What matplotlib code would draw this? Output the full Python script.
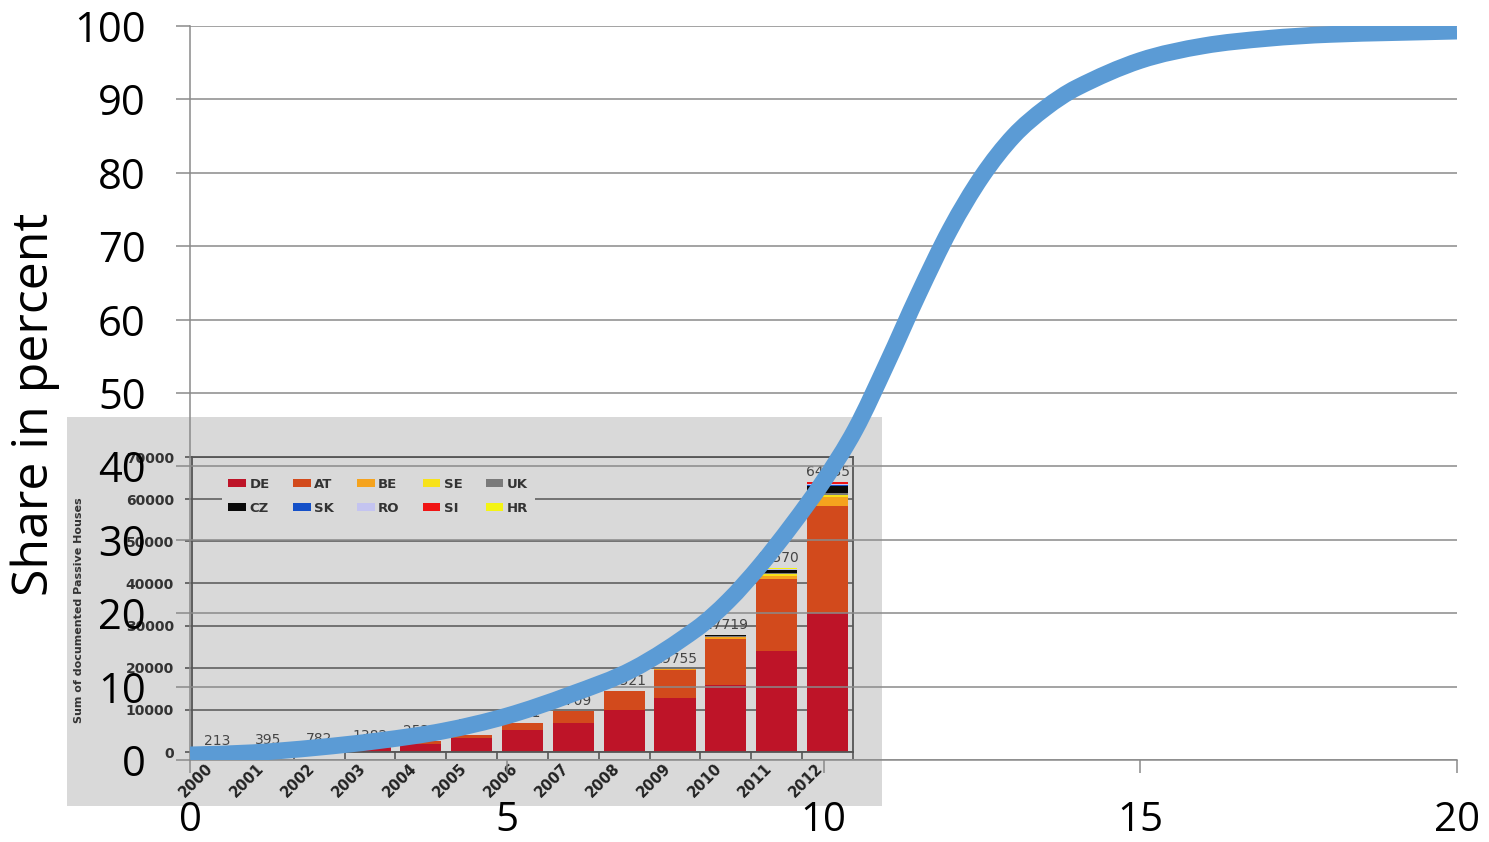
import matplotlib
matplotlib.use("Agg")
import matplotlib.pyplot as plt
import numpy as np
from matplotlib.patches import Rectangle, Patch, PathPatch
from matplotlib.path import Path
from matplotlib.transforms import ScaledTranslation

# S-curve: share in percent
share_x = [0, 1, 2, 3, 4, 5, 6, 7, 8, 8.5, 9, 9.5, 10, 10.5, 11, 11.5, 12,
           12.5, 13, 13.5, 14, 15, 16, 17, 18, 20]
share_y = [0.7, 1.0, 1.7, 2.65, 3.95, 6.0, 8.9, 12.4, 17.9, 21.7, 26.5, 32.0,
           38.0, 45.0, 54.0, 63.5, 72.3, 79.5, 85.0, 88.8, 91.6, 95.3, 97.3,
           98.3, 98.85, 99.3]

# documented passive houses per country (cumulative)
years = [str(y) for y in range(2000, 2013)]
countries = ['DE', 'AT', 'BE', 'SE', 'UK', 'CZ', 'SK', 'RO', 'SI', 'HR']
de = [150, 280, 560, 1000, 1900, 3300, 5200, 7000, 9950, 12700, 15900, 23900, 32900]
at = [63, 115, 222, 382, 624, 827, 1700, 2650, 4450, 6800, 11000, 17200, 25400]
be = [0, 0, 0, 0, 0, 0, 51, 59, 121, 150, 300, 700, 2100]
se = [0, 0, 0, 0, 0, 0, 0, 0, 0, 105, 150, 500, 600]
uk = [0, 0, 0, 0, 0, 0, 0, 0, 0, 0, 80, 270, 500]
cz = [0, 0, 0, 0, 0, 0, 0, 0, 0, 0, 289, 600, 1600]
sk = [0, 0, 0, 0, 0, 0, 0, 0, 0, 0, 0, 100, 300]
ro = [0, 0, 0, 0, 0, 0, 0, 0, 0, 0, 0, 50, 200]
si = [0, 0, 0, 0, 0, 0, 0, 0, 0, 0, 0, 150, 350]
hr = [0, 0, 0, 0, 0, 0, 0, 0, 0, 0, 0, 100, 185]
colors = ['#be1428', '#d24a1c', '#f5a31e', '#f7e21a', '#7a7a7a',
          '#0a0a0a', '#1450c8', '#c4c4f0', '#f01414', '#f4f414']


def smooth_path(xs, ys):
    # cubic hermite segments (as bezier) with finite-difference slopes
    x = np.asarray(xs, float)
    y = np.asarray(ys, float)
    m = np.empty_like(y)
    m[1:-1] = (y[2:] - y[:-2]) / (x[2:] - x[:-2])
    m[0] = (y[1] - y[0]) / (x[1] - x[0])
    m[-1] = (y[-1] - y[-2]) / (x[-1] - x[-2])
    verts = [(x[0], y[0])]
    codes = [Path.MOVETO]
    for i in range(len(x) - 1):
        h = (x[i + 1] - x[i]) / 3.0
        verts += [(x[i] + h, y[i] + m[i] * h),
                  (x[i + 1] - h, y[i + 1] - m[i + 1] * h),
                  (x[i + 1], y[i + 1])]
        codes += [Path.CURVE4] * 3
    return Path(verts, codes)


plt.rcParams['font.family'] = 'Open Sans'

fig = plt.figure(figsize=(14.89, 8.42), dpi=100)
W, H = 1489., 842.

# grey panel behind the bar chart
fig.add_artist(Rectangle((67 / W, 1 - 806 / H), 815 / W, 389 / H,
                         transform=fig.transFigure, facecolor='#d9d9d9',
                         edgecolor='none', zorder=0.5))

# inset: stacked bars
axi = fig.add_axes([192 / W, 1 - 752 / H, 661 / W, 295 / H], zorder=1)
axi.set_facecolor('#d9d9d9')
xpos = np.arange(len(years))
series = [de, at, be, se, uk, cz, sk, ro, si, hr]
bottom = np.zeros(len(years))
for name, vals, c in zip(countries, series, colors):
    axi.bar(xpos, vals, 0.81, bottom=bottom, color=c, edgecolor='none', label=name, zorder=2)
    bottom += np.array(vals)
for i, tot in enumerate(bottom):
    axi.text(xpos[i], tot + 700, '%d' % tot, ha='center', va='bottom',
             fontsize=10, color='#454545', family='DejaVu Sans', zorder=3)

axi.set_xlim(-0.5, 12.5)
axi.set_ylim(0, 70000)
axi.set_yticks(np.arange(0, 70001, 10000))
axi.set_yticklabels(['%d' % v for v in range(0, 70001, 10000)],
                    fontsize=10, fontweight='bold', family='DejaVu Sans', color='#333333')
axi.yaxis.grid(True, color='#6a6a6a', lw=1.3, zorder=1)
axi.set_axisbelow(True)
axi.tick_params(axis='y', length=5, width=1.2, color='#555555', pad=8)
axi.set_xticks(np.arange(-0.5, 13, 1))
axi.set_xticklabels([])
axi.set_xticks(xpos, minor=True)
axi.set_xticklabels(years, minor=True, rotation=45, ha='right', va='top',
                    rotation_mode='anchor', fontsize=10.5, fontweight='bold',
                    family='DejaVu Sans', color='#222222')
axi.tick_params(axis='x', which='major', length=5, width=1.2, color='#555555')
axi.tick_params(axis='x', which='minor', length=0, pad=6)
for lbl in axi.get_xticklabels(minor=True):
    lbl.set_transform(lbl.get_transform() + ScaledTranslation(-0.12, 0, fig.dpi_scale_trans))
for s in axi.spines.values():
    s.set_color('#555555')
    s.set_linewidth(1.3)

handles = [Patch(facecolor=c, edgecolor='none') for c in colors]
order = [0, 5, 1, 6, 2, 7, 3, 8, 4, 9]
leg = axi.legend([handles[k] for k in order], [countries[k] for k in order],
                 ncol=5, loc='upper left', bbox_to_anchor=(0.035, 0.975),
                 prop={'family': 'DejaVu Sans', 'weight': 'bold', 'size': 9.5},
                 handlelength=1.35, handleheight=0.5, handletextpad=0.25,
                 columnspacing=1.75, labelspacing=0.85, borderpad=0.5,
                 frameon=True, fancybox=False, facecolor='#d9d9d9',
                 edgecolor='none', framealpha=1)
for t in leg.get_texts():
    t.set_color('#333333')

fig.text(79 / W, 1 - 610 / H, 'Sum of documented Passive Houses', rotation=90,
         ha='center', va='center', fontsize=8, fontweight='bold',
         family='DejaVu Sans', color='#333333', zorder=1.5)

# main axes on top, transparent background
ax = fig.add_axes([190 / W, 1 - 760 / H, 1267 / W, 734 / H], zorder=2)
ax.patch.set_alpha(0)
ax.add_patch(PathPatch(smooth_path(share_x, share_y), facecolor='none',
                       edgecolor='#5b9bd5', lw=12, capstyle='butt',
                       joinstyle='round', zorder=3))
ax.set_xlim(0, 20)
ax.set_ylim(0, 100)
ax.set_xticks([0, 5, 10, 15, 20])
ax.set_yticks(np.arange(0, 101, 10))
ax.yaxis.grid(True, color='#8a8a8a', lw=1.1, zorder=1)
ax.tick_params(axis='y', direction='out', length=10, width=1.1, color='#8a8a8a',
               pad=22, labelsize=30)
ax.tick_params(axis='x', direction='out', length=9.5, width=1.1, color='#8a8a8a',
               pad=20, labelsize=29)
for side in ['top', 'right']:
    ax.spines[side].set_visible(False)
for side in ['left', 'bottom']:
    ax.spines[side].set_color('#8a8a8a')
    ax.spines[side].set_linewidth(1.1)

fig.text(35 / W, 1 - 404 / H, 'Share in percent', rotation=90, ha='center',
         va='center', fontsize=36)

fig.savefig('out.png', dpi=100, facecolor='white')
